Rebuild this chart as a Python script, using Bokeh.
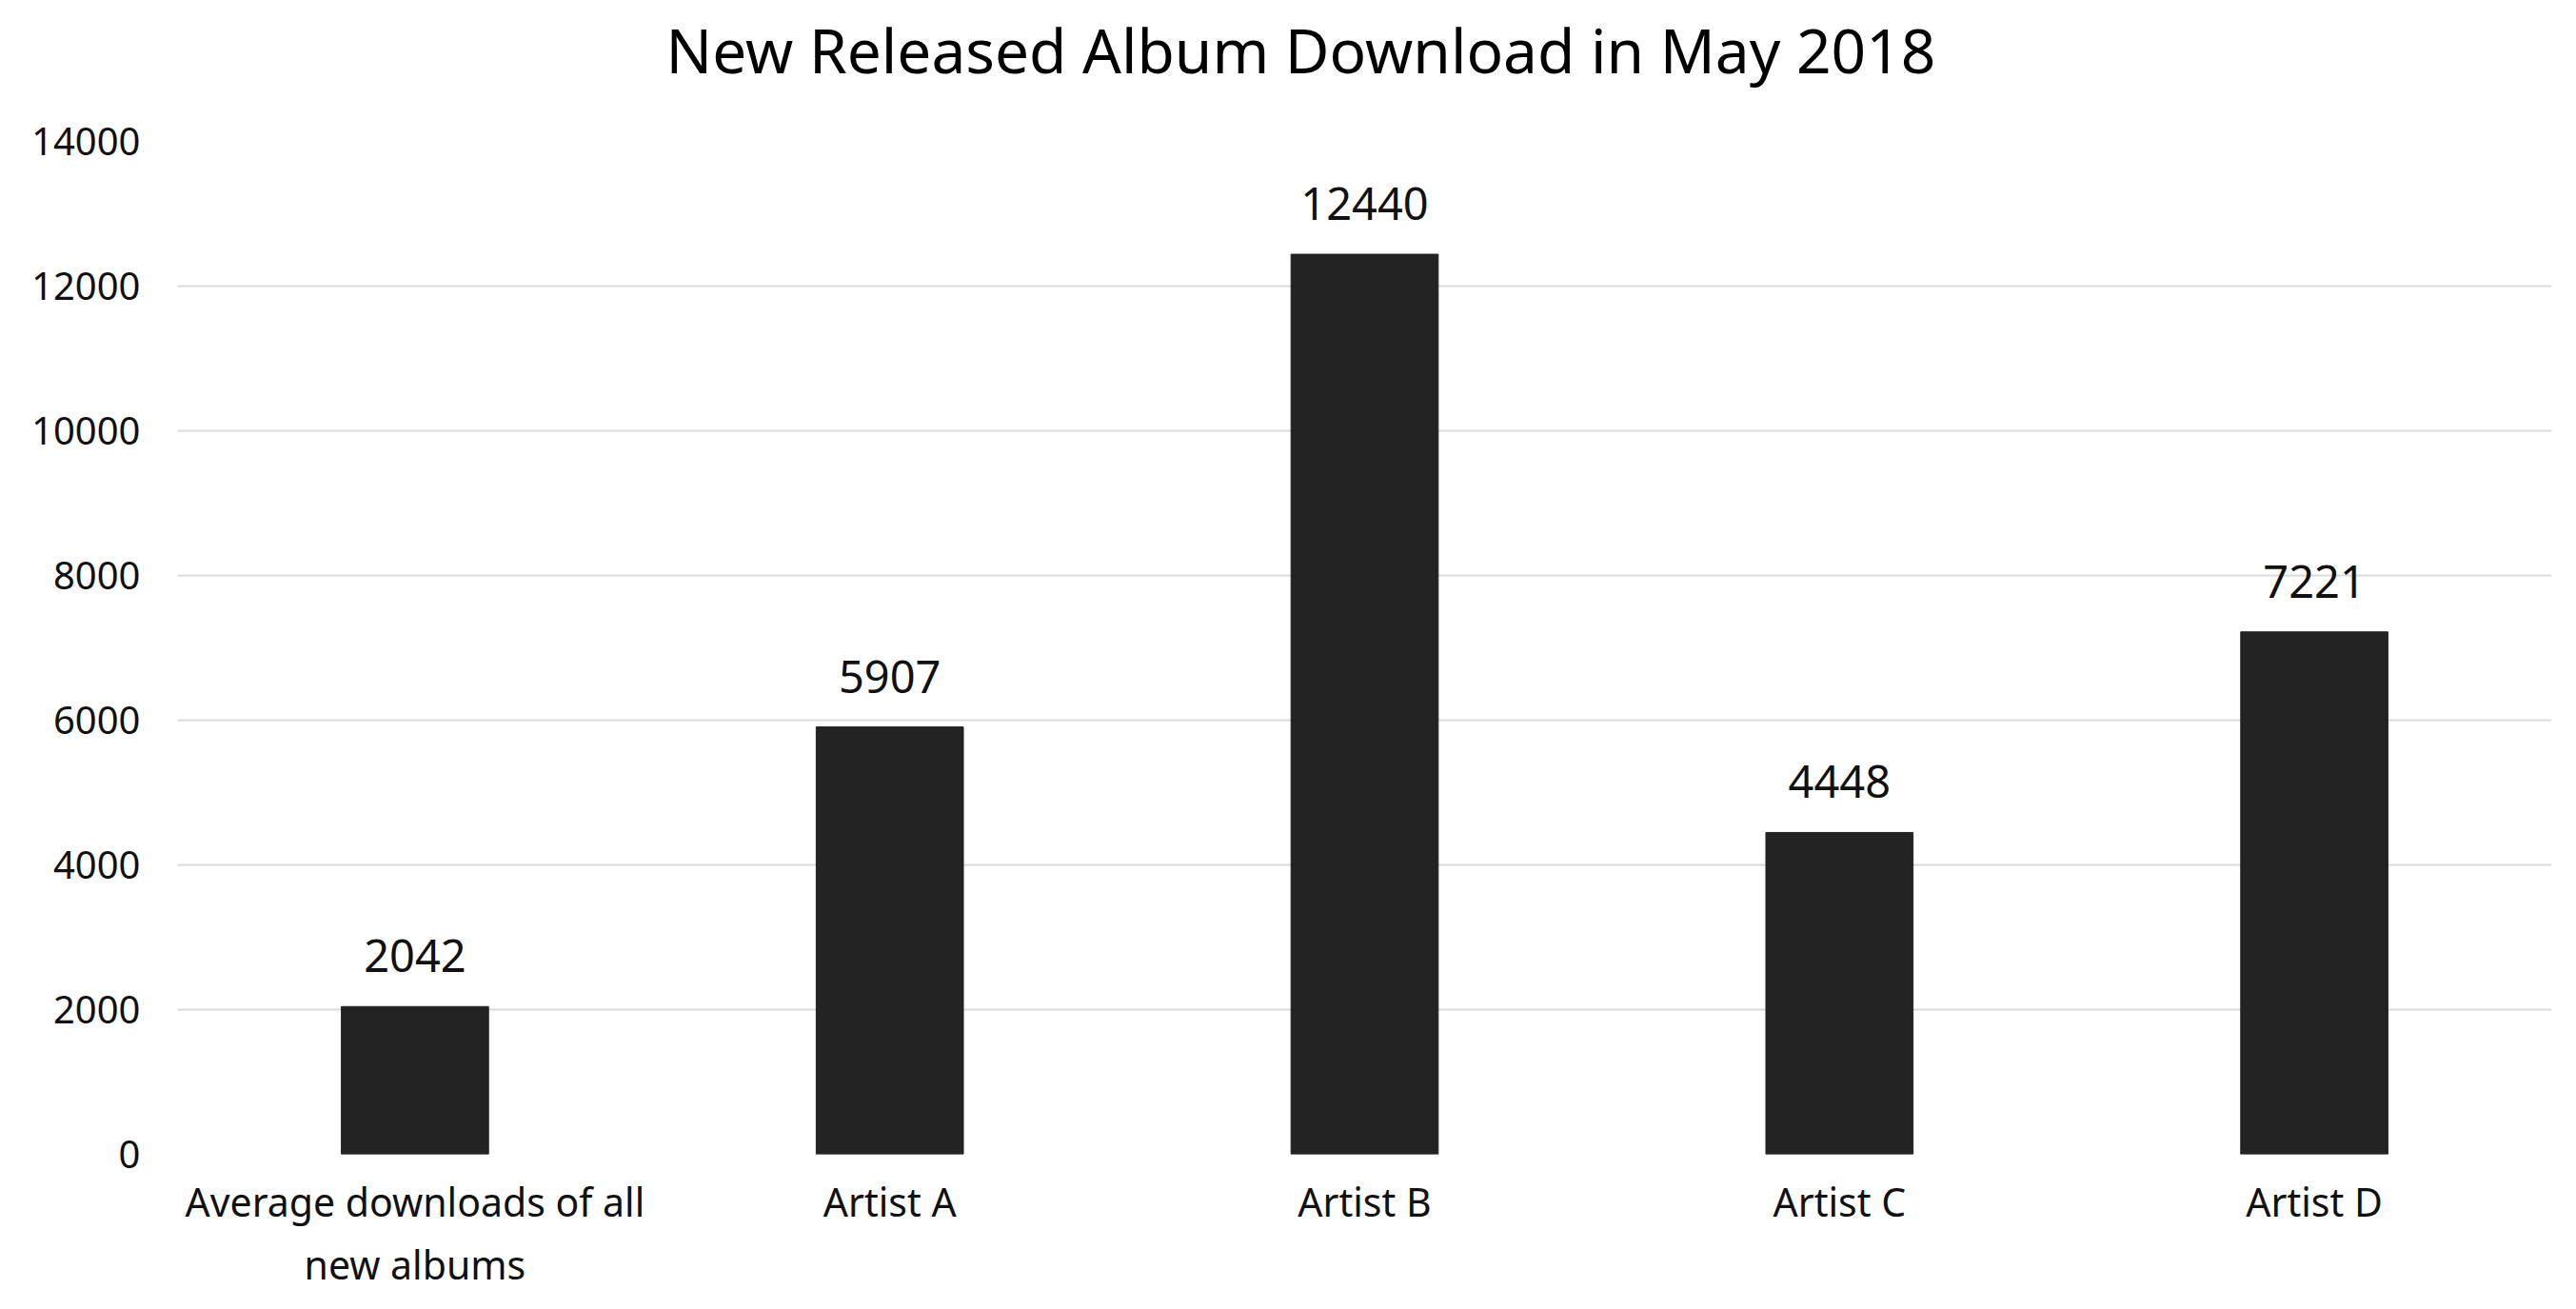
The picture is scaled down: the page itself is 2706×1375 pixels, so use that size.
from bokeh.plotting import figure
from bokeh.models import ColumnDataSource, FactorRange, Range1d, Title, FixedTicker
from bokeh.core.properties import value
from bokeh.embed import file_html
from bokeh.resources import INLINE

categories = ["Average downloads of all\nnew albums", "Artist A", "Artist B", "Artist C", "Artist D"]
downloads = [2042, 5907, 12440, 4448, 7221]
y_ticks = [0, 2000, 4000, 6000, 8000, 10000, 12000, 14000]
title_text = "New Released Album Download in May 2018"

FONT = "Noto Sans"

src = ColumnDataSource(dict(cat=categories, val=downloads, lab=[str(v) for v in downloads]))

p = figure(x_range=FactorRange(*categories), y_range=Range1d(0, 14000),
           width=2690, height=1359, output_backend="svg", toolbar_location=None,
           min_border_left=186, min_border_right=10, min_border_top=148, min_border_bottom=146)
p.outline_line_color = None
p.background_fill_color = "white"
p.border_fill_color = "white"

p.title = Title(text=title_text, align="left", offset=513, standoff=8,
                text_font=FONT, text_font_size="64px", text_font_style="normal", text_color="#000000")

# blank spacer panel between the title and the plot area
p.add_layout(Title(text=" ", text_font_size="1px", standoff=46, text_color="white"), "above")

p.vbar(x="cat", top="val", width=0.31, source=src, fill_color="#232323", line_color="#232323")

p.text(x="cat", y="val", text="lab", source=src, text_align="center", text_baseline="middle",
       y_offset=-53, text_font=value(FONT), text_font_size="47px", text_color="#111111")

p.yaxis.ticker = FixedTicker(ticks=y_ticks)
p.yaxis.axis_line_color = None
p.yaxis.major_tick_line_color = None
p.yaxis.minor_tick_line_color = None
p.yaxis.major_label_standoff = 33
p.yaxis.major_label_text_font = FONT
p.yaxis.major_label_text_font_size = "40px"
p.yaxis.major_label_text_color = "#111111"

p.xaxis.axis_line_color = None
p.xaxis.major_tick_line_color = None
p.xaxis.major_label_standoff = 15
p.xaxis.major_label_text_font = FONT
p.xaxis.major_label_text_font_size = "41px"
p.xaxis.major_label_text_line_height = 1.19
p.xaxis.major_label_text_color = "#111111"

p.xgrid.grid_line_color = None
p.ygrid.grid_line_color = "#d9d9d9"
p.ygrid.grid_line_width = 2

open("out.html", "w").write(file_html(p, INLINE))
